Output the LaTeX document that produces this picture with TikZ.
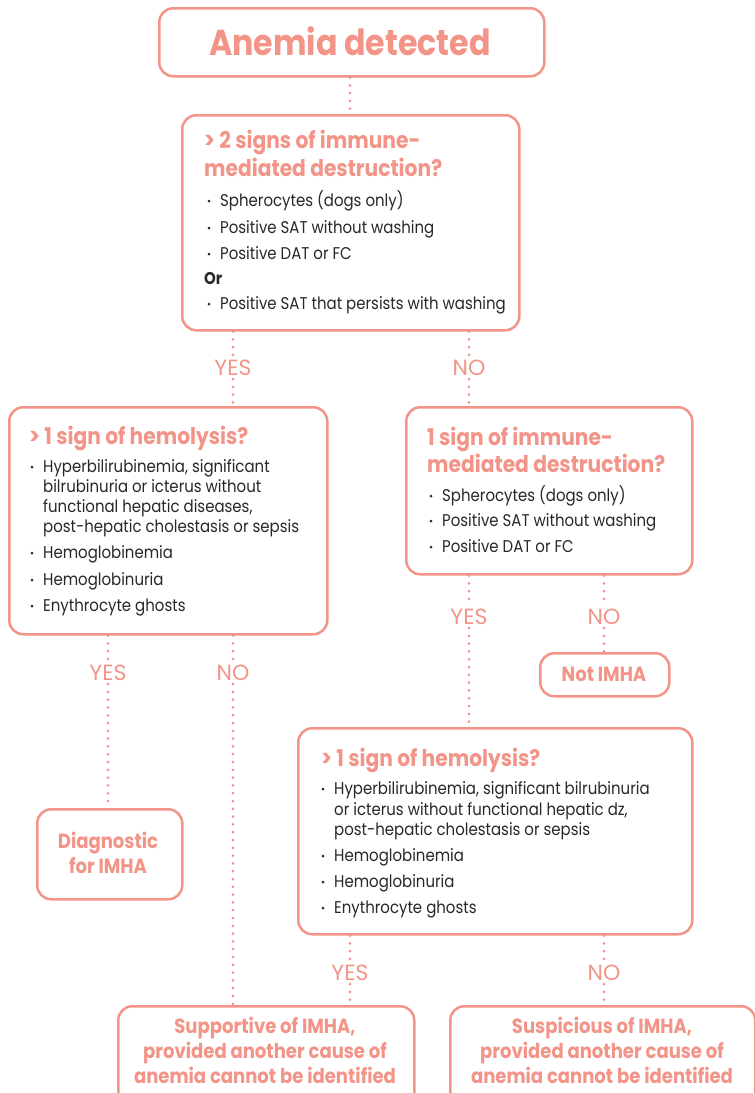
\documentclass[tikz,border=0pt]{standalone}
\usepackage{fontspec}
\setmainfont{Poppins}[FakeStretch=0.88]
\newfontfamily\lblfont{Poppins}
\definecolor{sal}{RGB}{243,148,136}
\definecolor{txt}{RGB}{40,40,40}
\tikzset{
  box/.style={draw=sal, line width=2.5pt, rounded corners=14pt, fill=white, inner sep=0pt},
  ttl/.style={text=sal, font=\fontsize{23}{27}\selectfont\bfseries, anchor=base west, inner sep=0pt},
  itm/.style={text=txt, font=\fontsize{17}{20}\selectfont, anchor=base west, inner sep=0pt},
  res/.style={text=sal, font=\fontsize{20.5}{24}\selectfont\bfseries, anchor=base, inner sep=0pt},
  lbl/.style={text=sal, font=\lblfont\fontsize{22}{22}\selectfont, inner sep=3pt},
  dotline/.style={draw=sal, line width=3pt, line cap=round, dash pattern=on 0pt off 7.8pt},
}
\newcommand\bul[3]{\node[itm] (#1) at (#2,#3) {}; \fill[txt] (#2-11,#3-5) circle (1.5);}
\begin{document}
\begin{tikzpicture}[x=1pt,y=-1pt]
\clip (0,0) rectangle (755,1093);
\fill[white] (0,0) rectangle (755,1093);
% boxes
\node[box, minimum width=385pt, minimum height=68pt, anchor=north west] (top) at (158,7) {};
\node[text=sal, font=\fontsize{36}{40}\selectfont\bfseries, anchor=base] (toptxt) at (350,55) {Anemia detected};

\node[box, minimum width=337pt, minimum height=215pt, anchor=north west] (b2) at (181,114) {};
\node[box, minimum width=318pt, minimum height=227pt, anchor=north west] (b3) at (8,406) {};
\node[box, minimum width=286pt, minimum height=167pt, anchor=north west] (b4) at (405,406) {};
\node[box, minimum width=145pt, minimum height=90pt, anchor=north west] (diag) at (36,808) {};
\node[box, minimum width=129pt, minimum height=43pt, anchor=north west] (notm) at (539,652) {};
\node[box, minimum width=394pt, minimum height=206pt, anchor=north west] (b5) at (297,727) {};
\node[box, minimum width=296pt, minimum height=110pt, anchor=north west] (botl) at (117,1005) {};
\node[box, minimum width=305pt, minimum height=110pt, anchor=north west] (botr) at (449,1005) {};

% box 2
\node[ttl] (b2t1) at (204,148) {> 2 signs of immune-};
\node[ttl] (b2t2) at (204,176) {mediated destruction?};
\bul{b2i1}{220}{206} \node[itm] (b2i1t) at (220,206) {Spherocytes (dogs only)};
\bul{b2i2}{220}{233} \node[itm] (b2i2t) at (220,233) {Positive SAT without washing};
\bul{b2i3}{220}{259} \node[itm] (b2i3t) at (220,259) {Positive DAT or FC};
\node[itm, font=\fontsize{17}{20}\selectfont\bfseries] (b2or) at (204,284) {Or};
\bul{b2i4}{220}{309} \node[itm] (b2i4t) at (220,309) {Positive SAT that persists with washing};

% box 3
\node[ttl] (b3t1) at (29,444) {> 1 sign of hemolysis?};
\bul{b3i1}{43}{472} \node[itm] (b3i1a) at (43,472) {Hyperbilirubinemia, significant};
\node[itm] (b3i1b) at (43,492) {bilrubinuria or icterus without};
\node[itm] (b3i1c) at (43,512) {functional hepatic diseases,};
\node[itm] (b3i1d) at (43,532) {post-hepatic cholestasis or sepsis};
\bul{b3i2}{43}{558} \node[itm] (b3i2t) at (43,558) {Hemoglobinemia};
\bul{b3i3}{43}{585} \node[itm] (b3i3t) at (43,585) {Hemoglobinuria};
\bul{b3i4}{43}{611} \node[itm] (b3i4t) at (43,611) {Enythrocyte ghosts};

% box 4
\node[ttl] (b4t1) at (427,445) {1 sign of immune-};
\node[ttl] (b4t2) at (427,472) {mediated destruction?};
\bul{b4i1}{442}{501} \node[itm] (b4i1t) at (442,501) {Spherocytes (dogs only)};
\bul{b4i2}{442}{526} \node[itm] (b4i2t) at (442,526) {Positive SAT without washing};
\bul{b4i3}{442}{552} \node[itm] (b4i3t) at (442,552) {Positive DAT or FC};

% box 5
\node[ttl] (b5t1) at (321,766) {> 1 sign of hemolysis?};
\bul{b5i1}{334}{794} \node[itm] (b5i1a) at (334,794) {Hyperbilirubinemia, significant bilrubinuria};
\node[itm] (b5i1b) at (334,815) {or icterus without functional hepatic dz,};
\node[itm] (b5i1c) at (334,835) {post-hepatic cholestasis or sepsis};
\bul{b5i2}{334}{861} \node[itm] (b5i2t) at (334,861) {Hemoglobinemia};
\bul{b5i3}{334}{887} \node[itm] (b5i3t) at (334,887) {Hemoglobinuria};
\bul{b5i4}{334}{913} \node[itm] (b5i4t) at (334,913) {Enythrocyte ghosts};

% result texts
\node[res] (diag1) at (108,848) {Diagnostic};
\node[res] (diag2) at (108,873) {for IMHA};
\node[res] (notmt) at (604,681) {Not IMHA};
\node[res] (botl1) at (265,1033) {Supportive of IMHA,};
\node[res] (botl2) at (265,1058) {provided another cause of};
\node[res] (botl3) at (265,1083) {anemia cannot be identified};
\node[res] (botr1) at (602,1033) {Suspicious of IMHA,};
\node[res] (botr2) at (602,1058) {provided another cause of};
\node[res] (botr3) at (602,1083) {anemia cannot be identified};

% labels
\node[lbl] (yes1) at (233,368) {YES};
\node[lbl] (no1) at (469,368) {NO};
\node[lbl] (yes2) at (108,673) {YES};
\node[lbl] (no2) at (233,673) {NO};
\node[lbl] (yes3) at (469,617) {YES};
\node[lbl] (no3) at (604,617) {NO};
\node[lbl] (yes4) at (350,973) {YES};
\node[lbl] (no4) at (604,973) {NO};

% connectors
\draw[dotline] (top.south -| toptxt) -- (toptxt |- b2.north);
\draw[dotline] (b2.south -| yes1) -- (yes1.north);
\draw[dotline] (yes1.south) -- (yes1 |- b3.north);
\draw[dotline] (b2.south -| no1) -- (no1.north);
\draw[dotline] (no1.south) -- (no1 |- b4.north);
\draw[dotline] (b3.south -| yes2) -- (yes2.north);
\draw[dotline] (yes2.south) -- (yes2 |- diag.north);
\draw[dotline] (b3.south -| no2) -- (no2.north);
\draw[dotline] (no2.south) -- (no2 |- botl.north);
\draw[dotline] (b4.south -| yes3) -- (yes3.north);
\draw[dotline] (yes3.south) -- (yes3 |- b5.north);
\draw[dotline] (b4.south -| no3) -- (no3.north);
\draw[dotline] (no3.south) -- (no3 |- notm.north);
\draw[dotline] (b5.south -| yes4) -- (yes4.north);
\draw[dotline] (yes4.south) -- (yes4 |- botl.north);
\draw[dotline] (b5.south -| no4) -- (no4.north);
\draw[dotline] (no4.south) -- (no4 |- botr.north);
\end{tikzpicture}
\end{document}
